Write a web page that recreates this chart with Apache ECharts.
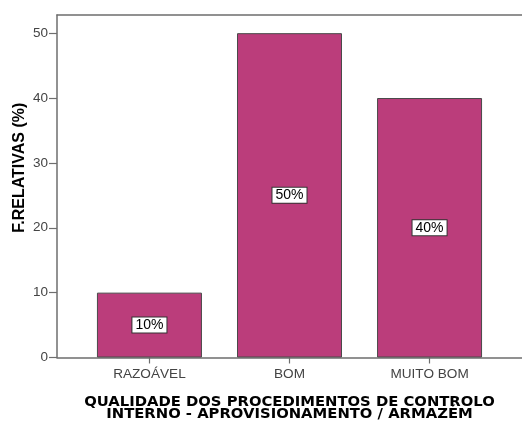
<!DOCTYPE html>
<html>
<head>
<meta charset="utf-8">
<script src="https://cdn.jsdelivr.net/npm/echarts@6/dist/echarts.min.js"></script>
<style>
  html, body { margin: 0; padding: 0; background: #fff; }
  #chart { width: 522px; height: 423px; }
</style>
</head>
<body>
<div id="chart"></div>
<script>
var categories = ['RAZOÁVEL', 'BOM', 'MUITO BOM'];
var values = [10, 50, 40];
var yTicks = [0, 10, 20, 30, 40, 50];

var chart = echarts.init(document.getElementById('chart'));

var positions = categories.map(function (c, i) { return i; });
var seriesData = values.map(function (v, i) { return [i, v]; });

var font = 'Liberation Sans, Arial, sans-serif';
var axisColor = '#6e6e6e';

var option = {
  animation: false,
  grid: { left: 57, right: 0, top: 15, bottom: 65.5, outerBoundsMode: 'none' },
  xAxis: [{
    type: 'value',
    min: -0.66,
    max: 2.66,
    position: 'bottom',
    name: 'QUALIDADE DOS PROCEDIMENTOS DE CONTROLO\nINTERNO - APROVISIONAMENTO / ARMAZÉM',
    nameLocation: 'middle',
    nameGap: 38,
    nameMoveOverlap: false,
    nameTextStyle: { fontFamily: 'DejaVu Sans', fontSize: 14.8, fontWeight: 'bold', color: '#000', lineHeight: 12.5 },
    splitLine: { show: false },
    axisLine: { show: true, onZero: false, lineStyle: { color: axisColor, width: 1.5 } },
    axisTick: { show: true, length: 6, lineStyle: { color: axisColor, width: 1.2 }, customValues: positions },
    axisLabel: {
      customValues: positions,
      margin: 10,
      color: '#444',
      fontFamily: font,
      fontSize: 13.6,
      formatter: function (v) { return categories[Math.round(v)]; }
    }
  }, {
    type: 'value',
    min: -0.66,
    max: 2.66,
    position: 'top',
    splitLine: { show: false },
    axisLine: { show: true, onZero: false, lineStyle: { color: axisColor, width: 1.5 } },
    axisTick: { show: false },
    axisLabel: { show: false }
  }],
  yAxis: {
    type: 'value',
    min: 0,
    max: 52.8,
    interval: 10,
    name: 'F.RELATIVAS (%)',
    nameLocation: 'middle',
    nameGap: 29,
    nameMoveOverlap: false,
    nameTextStyle: { fontFamily: font, fontSize: 16, fontWeight: 'bold', color: '#000', padding: [0, 0, 0, 37] },
    splitLine: { show: false },
    axisLine: { show: true, onZero: false, lineStyle: { color: axisColor, width: 1.5 } },
    axisTick: { show: true, length: 8, lineStyle: { color: axisColor, width: 1.2 }, customValues: yTicks },
    axisLabel: {
      customValues: yTicks,
      margin: 9,
      color: '#444',
      fontFamily: font,
      fontSize: 13.5
    }
  },
  series: [{
    type: 'bar',
    xAxisIndex: 0,
    data: seriesData,
    barWidth: 105,
    itemStyle: { color: '#bb3d7b', borderColor: '#4a4a4a', borderWidth: 1 },
    label: {
      show: true,
      position: 'inside',
      formatter: function (p) { return p.value[1] + '%'; },
      color: '#000',
      fontFamily: font,
      fontSize: 14,
      backgroundColor: '#fff',
      borderColor: '#333',
      borderWidth: 1,
      padding: [1, 3, 0, 3]
    }
  }]
};

chart.setOption(option);
</script>
</body>
</html>
